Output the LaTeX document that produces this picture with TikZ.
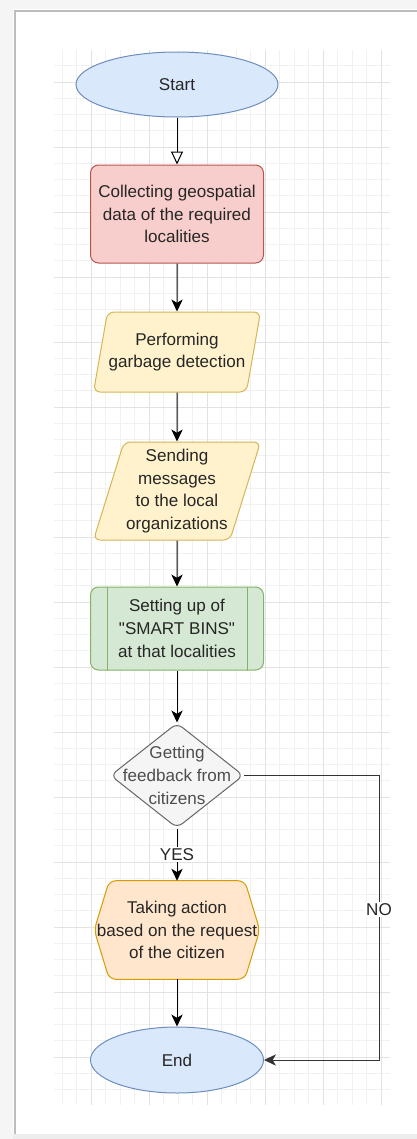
\documentclass[tikz,border=0pt]{standalone}
\usepackage{fontspec}
\setmainfont{Liberation Sans}
\usetikzlibrary{shapes.geometric,arrows.meta}
\definecolor{blueFill}{HTML}{DAE8FC}
\definecolor{blueLine}{HTML}{6C8EBF}
\definecolor{redFill}{HTML}{F8CECC}
\definecolor{redLine}{HTML}{B85450}
\definecolor{yellowFill}{HTML}{FFF2CC}
\definecolor{yellowLine}{HTML}{D6B656}
\definecolor{greenFill}{HTML}{D5E8D4}
\definecolor{greenLine}{HTML}{82B366}
\definecolor{grayFill}{HTML}{F5F5F5}
\definecolor{grayLine}{HTML}{666666}
\definecolor{grayText}{HTML}{4D4D4D}
\definecolor{orangeFill}{HTML}{FFE6CC}
\definecolor{orangeLine}{HTML}{D79B00}
\definecolor{gridMinor}{HTML}{F1F1F1}
\definecolor{gridMajor}{HTML}{E2E2E2}
\definecolor{frameLine}{HTML}{BDBDBD}

\begin{document}
\begin{tikzpicture}[x=0.75pt,y=0.75pt,yscale=-1,xscale=1,
    every node/.style={font=\fontsize{12.8}{17}\selectfont, align=center, text=black!85},
    terminal/.style={ellipse, draw=blueLine, fill=blueFill, line width=0.75pt, inner sep=0pt},
    process/.style={rectangle, rounded corners=6pt, draw=redLine, fill=redFill, line width=0.75pt, inner sep=0pt},
    io/.style={trapezium, trapezium left angle=70, trapezium right angle=110, trapezium stretches body, rounded corners=5pt, draw=yellowLine, fill=yellowFill, line width=0.75pt, inner sep=0pt},
    subproc/.style={rectangle, rounded corners=6pt, draw=greenLine, fill=greenFill, line width=0.75pt, inner sep=0pt},
    decision/.style={diamond, rounded corners=5pt, draw=grayLine, fill=grayFill, line width=0.75pt, inner sep=0pt},
    prep/.style={rectangle, inner sep=0pt},
    hexline/.style={rounded corners=5pt, draw=orangeLine, fill=orangeFill, line width=0.75pt},
    flow/.style={line width=0.75pt, -{Stealth[length=9pt, width=8.5pt, inset=2.5pt]}},
    lbl/.style={fill=white, inner sep=1pt, text=black!85}
  ]
    \useasboundingbox (0,0) rectangle (417,1139);
    \fill[white] (0,0) rectangle (417,1139);
    \fill[gray!8] (0,0) rectangle (417,9);
    \fill[gray!8] (0,0) rectangle (13,1139);
    \fill[gray!14] (13,1134) rectangle (417,1139);
    \draw[frameLine, line width=1.5pt] (417,10.5) -- (14.5,10.5) -- (14.5,1134);

    \foreach \gx in {62,76.5,...,390} \draw[gridMinor, line width=0.5pt] (\gx,50) -- (\gx,1105);
    \foreach \gy in {65.75,82,...,1105} \draw[gridMinor, line width=0.5pt] (54,\gy) -- (390,\gy);
    \foreach \gx in {91,149,...,390} \draw[gridMajor, line width=0.6pt] (\gx,50) -- (\gx,1105);
    \foreach \gy in {82,147,...,1105} \draw[gridMajor, line width=0.6pt] (54,\gy) -- (390,\gy);

    \node[terminal, minimum width=151.5pt, minimum height=48.75pt] (start) at (177,84.5) {Start};
    \node[process, minimum width=129.75pt, minimum height=73.5pt] (collect) at (177,214) {Collecting geospatial\\data of the required\\localities};
    \node[io, minimum width=125.25pt, minimum height=60pt] (detect) at (177,352) {Performing\\garbage detection};
    \node[io, minimum width=125.25pt, minimum height=73.5pt] (notify) at (177,491) {Sending\\messages\\to the local\\organizations};
    \node[subproc, minimum width=129.75pt, minimum height=62.25pt] (bins) at (177,628.5) {Setting up of\\\textquotedbl SMART BINS\textquotedbl\\at that localities};
    \draw[greenLine, line width=0.75pt] ([xshift=12.75pt]bins.north west) -- ([xshift=12.75pt]bins.south west);
    \draw[greenLine, line width=0.75pt] ([xshift=-12.75pt]bins.north east) -- ([xshift=-12.75pt]bins.south east);
    \node[decision, minimum width=99.75pt, minimum height=78.75pt] (feedback) at (177,775.5) {};
    \node[text=grayText] (feedbackText) at (feedback) {Getting\\feedback from\\citizens};
    \node[prep, minimum width=123.75pt, minimum height=73.5pt] (action) at (177,930) {};
    \draw[hexline] ([xshift=11.25pt]action.north west) -- ([xshift=-11.25pt]action.north east) -- (action.east)
        -- ([xshift=-11.25pt]action.south east) -- ([xshift=11.25pt]action.south west) -- (action.west) -- cycle;
    \node (actionText) at (action) {Taking action\\based on the request\\of the citizen};
    \node[terminal, minimum width=129.75pt, minimum height=49.5pt] (finish) at (177,1060) {End};

    \draw[line width=0.75pt, -{Triangle[length=9.75pt, width=9pt, fill=white]}] (start) -- (collect);
    \draw[flow] (collect) -- (detect);
    \draw[flow] (detect) -- (notify);
    \draw[flow] (notify) -- (bins);
    \draw[flow] (bins) -- (feedback);
    \draw[flow] (feedback) -- node[lbl] {YES} (action);
    \draw[flow] (action) -- (finish);
    \draw[flow, black!80] (feedback.east) -- ++(135,0) |- node[lbl, pos=0.235] {NO} (finish.east);
\end{tikzpicture}
\end{document}
